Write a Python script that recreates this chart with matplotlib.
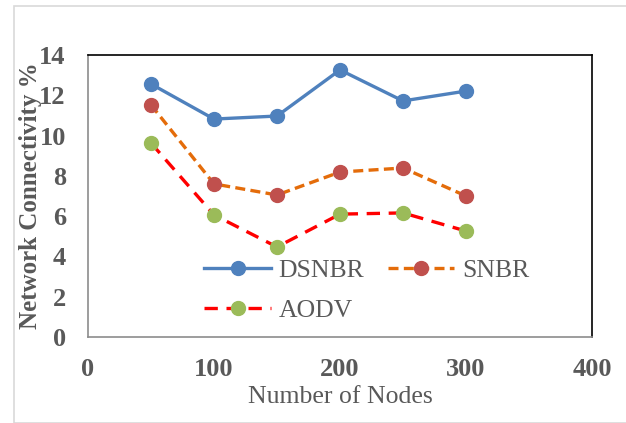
import matplotlib.pyplot as plt
from matplotlib.patches import Rectangle

plt.rcParams['font.family'] = ['Liberation Serif', 'DejaVu Serif']

nodes = [50, 100, 150, 200, 250, 300]
dsnbr = [12.56, 10.82, 10.97, 13.26, 11.72, 12.21]
snbr = [11.52, 7.60, 7.05, 8.19, 8.39, 7.00]
aodv = [9.63, 6.06, 4.47, 6.10, 6.16, 5.26]

x_ticks = [0, 100, 200, 300, 400]
y_ticks = [0, 2, 4, 6, 8, 10, 12, 14]

GRAY = '#595959'

fig = plt.figure(figsize=(6.26, 4.23), dpi=100)
# light chart border like the Excel chart area
fig.patches.append(Rectangle((14 / 626, 0), 1, 1 - 6 / 423, transform=fig.transFigure,
                             fill=False, edgecolor='#d9d9d9', linewidth=1.2))

ax = fig.add_axes([88 / 626, 86 / 423, 504 / 626, 282 / 423])

l1, = ax.plot(nodes, dsnbr, color='#4f81bd', linewidth=2.4, marker='o',
              markersize=10, markerfacecolor='#4f81bd', markeredgecolor='#4f81bd',
              label='DSNBR')
l2, = ax.plot(nodes, snbr, color='#e46c0a', linewidth=2.4, linestyle=(0, (3, 1.6)),
              marker='o', markersize=10, markerfacecolor='#c0504d',
              markeredgecolor='#c0504d', label='SNBR')
l3, = ax.plot(nodes, aodv, color='#ff0000', linewidth=2.4, linestyle=(0, (4, 2.6)),
              marker='o', markersize=10, markerfacecolor='#9bbb59',
              markeredgecolor='#9bbb59', label='AODV')

ax.set_xlim(0, 400)
ax.set_ylim(0, 14)
ax.set_xticks(x_ticks)
ax.set_yticks(y_ticks)
ax.tick_params(length=0, labelsize=19, labelcolor=GRAY)
ax.tick_params(axis='y', pad=16)
ax.tick_params(axis='x', pad=15)
for lab in ax.get_xticklabels() + ax.get_yticklabels():
    lab.set_fontweight('bold')

ax.spines['left'].set_color('#8c8c8c')
ax.spines['bottom'].set_color('#8c8c8c')
ax.spines['top'].set_color('black')
ax.spines['right'].set_color('black')
for s in ax.spines.values():
    s.set_linewidth(1.2)

ax.set_xlabel('Number of Nodes', fontsize=18.5, color=GRAY, labelpad=4)
ax.set_ylabel('Network Connectivity %', fontsize=18, color=GRAY,
              fontweight='bold')
ax.yaxis.set_label_coords(-0.092, 0.5)

ax.legend([l1, l3, l2], ['DSNBR', 'AODV', 'SNBR'], ncol=2, frameon=False,
          fontsize=18.5, labelcolor=GRAY, handlelength=2.6, handletextpad=0.3,
          columnspacing=0.9, labelspacing=0.68, numpoints=1,
          loc='center', bbox_to_anchor=(0.553, 0.165))

fig.savefig('out.png', dpi=100)
